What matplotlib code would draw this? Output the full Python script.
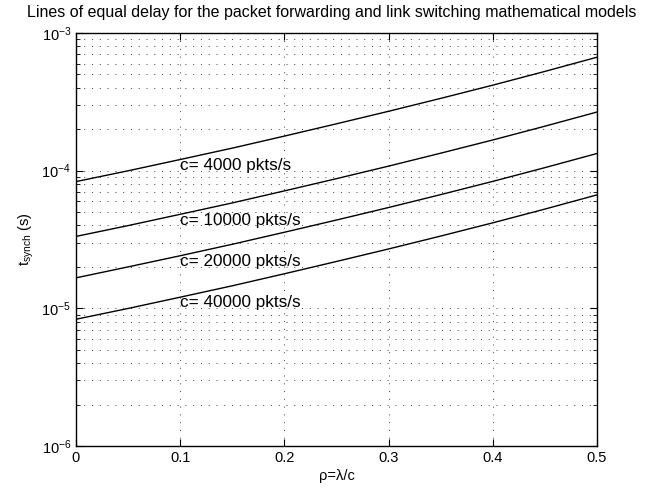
import numpy as np
import matplotlib
matplotlib.use("Agg")
import matplotlib.pyplot as plt

plt.rcParams['font.family'] = ['Liberation Sans', 'DejaVu Sans']
plt.rcParams['mathtext.fontset'] = 'custom'
plt.rcParams['mathtext.rm'] = 'Liberation Sans'
plt.rcParams['mathtext.it'] = 'Liberation Sans'

# load rho = lambda / c
rho = [0.0, 0.05, 0.1, 0.15, 0.2, 0.25, 0.3, 0.35, 0.4, 0.45, 0.5]

# t_synch (s), one list per link capacity
t_4000 = [8.33e-5, 9.98e-5, 1.205e-4, 1.458e-4, 1.783e-4, 2.19e-4, 2.70e-4, 3.35e-4, 4.18e-4, 5.26e-4, 6.67e-4]
t_10000 = [3.33e-5, 3.99e-5, 4.82e-5, 5.83e-5, 7.13e-5, 8.75e-5, 1.079e-4, 1.34e-4, 1.671e-4, 2.104e-4, 2.667e-4]
t_20000 = [1.665e-5, 2.0e-5, 2.41e-5, 2.92e-5, 3.57e-5, 4.38e-5, 5.40e-5, 6.70e-5, 8.36e-5, 1.052e-4, 1.333e-4]
t_40000 = [8.33e-6, 9.98e-6, 1.205e-5, 1.458e-5, 1.783e-5, 2.19e-5, 2.70e-5, 3.35e-5, 4.18e-5, 5.26e-5, 6.67e-5]

labels = ['c= 4000 pkts/s', 'c= 10000 pkts/s', 'c= 20000 pkts/s', 'c= 40000 pkts/s']
label_x = 0.1
label_y = [1.09e-4, 4.35e-5, 2.18e-5, 1.10e-5]

fig = plt.figure(figsize=(6.45, 4.91), dpi=100)
ax = fig.add_axes([76 / 645, 1 - 446 / 491, 521 / 645, 413 / 491])

for t in [t_4000, t_10000, t_20000, t_40000]:
    ax.plot(rho, t, color='black', linewidth=1.0)

for lab, ly in zip(labels, label_y):
    ax.text(label_x, ly, lab, fontsize=12.3, ha='left', va='center')

ax.set_yscale('log')
ax.set_xlim(0, 0.5)
ax.set_ylim(1e-6, 1e-3)
ax.set_xticks([0, 0.1, 0.2, 0.3, 0.4, 0.5])
ax.set_xticklabels(['0', '0.1', '0.2', '0.3', '0.4', '0.5'])

dots = (0, (1, 7))
ax.grid(True, which='major', axis='both', linestyle=dots, color='0.25', linewidth=0.7)
ax.grid(True, which='minor', axis='y', linestyle=dots, color='0.25', linewidth=0.7)
ax.tick_params(which='both', direction='in', top=True, right=True, labelsize=10.5)
ax.tick_params(which='major', length=5)
ax.tick_params(which='minor', length=3)
for sp in ax.spines.values():
    sp.set_linewidth(1.0)

ax.set_xlabel(r'ρ=λ/c', fontsize=10.5, labelpad=3)
ax.set_ylabel(r'$\mathregular{t_{synch}}$ (s)', fontsize=10.5)
fig.text(332 / 645, 1 - 12 / 491,
         'Lines of equal delay for the packet forwarding and link switching mathematical models',
         fontsize=11.5, ha='center', va='center')

fig.savefig('out.png', dpi=100)
